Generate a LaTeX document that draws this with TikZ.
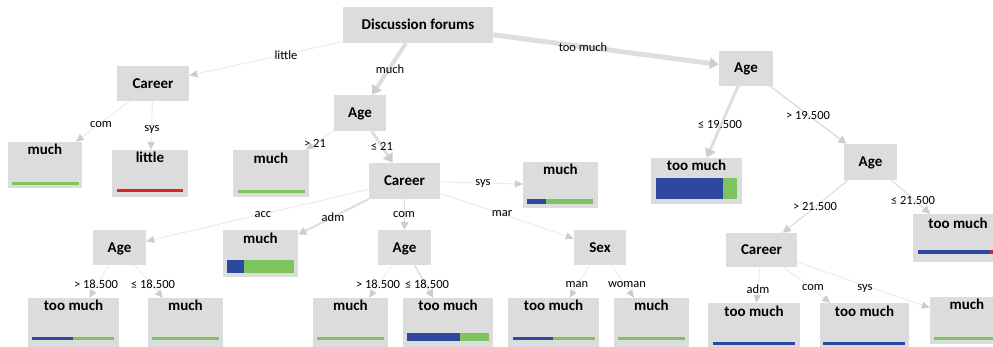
\documentclass[tikz,border=0pt]{standalone}
\usepackage{fontspec}
\setmainfont{Carlito}
\usetikzlibrary{arrows.meta}
\definecolor{boxc}{RGB}{220,220,220}
\definecolor{edgec}{RGB}{222,222,222}
\definecolor{thinc}{RGB}{234,234,234}
\definecolor{tipc}{RGB}{205,205,205}
\definecolor{gbar}{RGB}{125,196,94}
\definecolor{bbar}{RGB}{45,72,158}
\definecolor{rbar}{RGB}{212,40,40}
\begin{document}
\begin{tikzpicture}[x=1pt,y=-1pt,
  dec/.style={fill=boxc, inner sep=0pt, text height=9pt, text depth=0pt,
    font=\fontsize{15}{15}\selectfont\bfseries},
  leafbox/.style={fill=boxc, inner sep=0pt},
  ltext/.style={inner sep=0pt, text height=9pt, text depth=0pt,
    font=\fontsize{15}{15}\selectfont\bfseries},
  elab/.style={inner sep=0pt, font=\fontsize{12.5}{12.5}\selectfont},
  thinedge/.style={draw=thinc, line width=0.9pt,
    -{Triangle[length=8pt,width=7pt,color=tipc]}},
  midedge/.style={draw=edgec, line width=#1,
    -{Triangle[length=8pt,width=8pt,color=tipc]}},
  bigedge/.style={draw=edgec, line width=#1,
    -{Triangle[length=9pt,width=11pt,color=tipc]}}
]
\useasboundingbox (0,0) rectangle (993,346);

% decision nodes
\node[dec, minimum width=150pt, minimum height=36pt] (root) at (418,25) {Discussion forums};
\node[dec, minimum width=72pt, minimum height=35pt] (cl) at (153,83.5) {Career};
\node[dec, minimum width=52pt, minimum height=36pt] (am) at (360,113) {Age};
\node[dec, minimum width=54pt, minimum height=35pt] (atr) at (746,68) {Age};
\node[dec, minimum width=71pt, minimum height=36pt] (cm) at (404.5,181) {Career};
\node[dec, minimum width=53pt, minimum height=36pt] (ar2) at (870.5,162) {Age};
\node[dec, minimum width=53pt, minimum height=35pt] (abl) at (119.5,247.5) {Age};
\node[dec, minimum width=53pt, minimum height=35pt] (abm) at (404.5,247.5) {Age};
\node[dec, minimum width=52pt, minimum height=35pt] (sex) at (600,247.5) {Sex};
\node[dec, minimum width=71pt, minimum height=34pt] (cr) at (761.5,250) {Career};

% leaves
\node[leafbox, minimum width=74pt, minimum height=46pt] (la) at (45,165) {};
\node[ltext] (lat) at (45,150) {much};
\fill[gbar] (12,181.5) rectangle (79,184.5);

\node[leafbox, minimum width=76pt, minimum height=47pt] (lb) at (150,173.5) {};
\node[ltext] (lbt) at (150,158) {little};
\fill[rbar] (117,188.5) rectangle (183,191.5);

\node[leafbox, minimum width=76pt, minimum height=47pt] (lc) at (271,173.5) {};
\node[ltext] (lct) at (271,159) {much};
\fill[gbar] (238,189.5) rectangle (305,192.5);

\node[leafbox, minimum width=75pt, minimum height=46pt] (ld) at (560.5,185) {};
\node[ltext] (ldt) at (560.5,170) {much};
\fill[bbar] (527,198.5) rectangle (546,203.5);
\fill[gbar] (546,198.5) rectangle (593,203.5);

\node[leafbox, minimum width=91pt, minimum height=46pt] (le) at (696.5,181) {};
\node[ltext] (let) at (696.5,166) {too much};
\fill[bbar] (656,178) rectangle (723,199);
\fill[gbar] (723,178) rectangle (737,199);

\node[leafbox, minimum width=90pt, minimum height=48pt] (lf) at (958,238) {};
\node[ltext] (lft) at (958,224) {too much};
\fill[bbar] (918,250) rectangle (990,254);
\fill[rbar] (990,250) rectangle (995,254);

\node[leafbox, minimum width=75pt, minimum height=47pt] (lg) at (260.5,253.5) {};
\node[ltext] (lgt) at (260.5,239) {much};
\fill[bbar] (227,260) rectangle (244,273);
\fill[gbar] (244,260) rectangle (294,273);

\node[leafbox, minimum width=91pt, minimum height=52pt] (b1) at (73.5,324) {};
\node[ltext] (b1t) at (73.5,306) {too much};
\fill[bbar] (32,336.5) rectangle (73,339.5);
\fill[gbar] (73,336.5) rectangle (114,339.5);

\node[leafbox, minimum width=75pt, minimum height=52pt] (b2) at (185.5,324) {};
\node[ltext] (b2t) at (185.5,306) {much};
\fill[gbar] (152,336.5) rectangle (219,339.5);

\node[leafbox, minimum width=75pt, minimum height=52pt] (b3) at (350.5,324) {};
\node[ltext] (b3t) at (350.5,306) {much};
\fill[gbar] (317,336.5) rectangle (384,339.5);

\node[leafbox, minimum width=90pt, minimum height=52pt] (b4) at (448,324) {};
\node[ltext] (b4t) at (448,306) {too much};
\fill[bbar] (407,333) rectangle (460,341);
\fill[gbar] (460,333) rectangle (489,341);

\node[leafbox, minimum width=91pt, minimum height=52pt] (b5) at (553.5,324) {};
\node[ltext] (b5t) at (553.5,306) {too much};
\fill[bbar] (513,336.5) rectangle (553,339.5);
\fill[gbar] (553,336.5) rectangle (595,339.5);

\node[leafbox, minimum width=75pt, minimum height=52pt] (b6) at (651.5,324) {};
\node[ltext] (b6t) at (651.5,306) {much};
\fill[gbar] (618,336.5) rectangle (685,339.5);

\node[leafbox, minimum width=92pt, minimum height=52pt] (b7) at (754,329) {};
\node[ltext] (b7t) at (754,312) {too much};
\fill[bbar] (713,341.5) rectangle (795,345);

\node[leafbox, minimum width=89pt, minimum height=52pt] (b8) at (864.5,329) {};
\node[ltext] (b8t) at (864.5,312) {too much};
\fill[bbar] (823,341.5) rectangle (905,345);

\node[leafbox, minimum width=74pt, minimum height=47pt] (b9) at (967,320.5) {};
\node[ltext] (b9t) at (967,305) {much};
\fill[gbar] (934,336.5) rectangle (1000,339.5);

% edges
\draw[thinedge] (root) -- (cl);
\draw[bigedge=4pt] (root) -- (am);
\draw[bigedge=5pt] (root) -- (atr);
\draw[thinedge] (cl) -- (la);
\draw[thinedge] (cl) -- (lb);
\draw[thinedge] (am) -- (lc);
\draw[bigedge=3pt] (am) -- (cm);
\draw[bigedge=3pt] (atr) -- (le);
\draw[midedge=1.5pt] (atr) -- (ar2);
\draw[thinedge] (cm) -- (abl);
\draw[midedge=2pt] (cm) -- (lg);
\draw[midedge=1.5pt] (cm) -- (abm);
\draw[thinedge] (cm) -- (ld);
\draw[thinedge] (cm) -- (sex);
\draw[midedge=1.2pt] (ar2) -- (cr);
\draw[midedge=1.2pt] (ar2) -- (lf);
\draw[thinedge] (abl) -- (b1);
\draw[thinedge] (abl) -- (b2);
\draw[thinedge] (abm) -- (b3);
\draw[midedge=1.5pt] (abm) -- (b4);
\draw[thinedge] (sex) -- (b5);
\draw[thinedge] (sex) -- (b6);
\draw[thinedge] (cr) -- (b7);
\draw[thinedge] (cr) -- (b8);
\draw[thinedge] (cr) -- (b9);

% edge labels
\node[elab] (t1) at (286,55) {little};
\node[elab] (t2) at (390,69) {much};
\node[elab] (t3) at (583,47) {too much};
\node[elab] (t4) at (101,125) {com};
\node[elab] (t5) at (152,129) {sys};
\node[elab] (t6) at (315,143) {> 21};
\node[elab] (t7) at (382,146) {≤ 21};
\node[elab] (t8) at (720,124) {≤ 19.500};
\node[elab] (t9) at (808,115) {> 19.500};
\node[elab] (t10) at (483,183) {sys};
\node[elab] (t11) at (263,215) {acc};
\node[elab] (t12) at (333,217) {adm};
\node[elab] (t13) at (404,215) {com};
\node[elab] (t14) at (502,214) {mar};
\node[elab] (t15) at (815,206) {> 21.500};
\node[elab] (t16) at (913,200) {≤ 21.500};
\node[elab] (t17) at (96,284) {> 18.500};
\node[elab] (t18) at (153,284) {≤ 18.500};
\node[elab] (t19) at (378,284) {> 18.500};
\node[elab] (t20) at (427,284) {≤ 18.500};
\node[elab] (t21) at (577,285) {man};
\node[elab] (t22) at (627,285) {woman};
\node[elab] (t23) at (758,289) {adm};
\node[elab] (t24) at (813,288) {com};
\node[elab] (t25) at (865,288) {sys};
\end{tikzpicture}
\end{document}
